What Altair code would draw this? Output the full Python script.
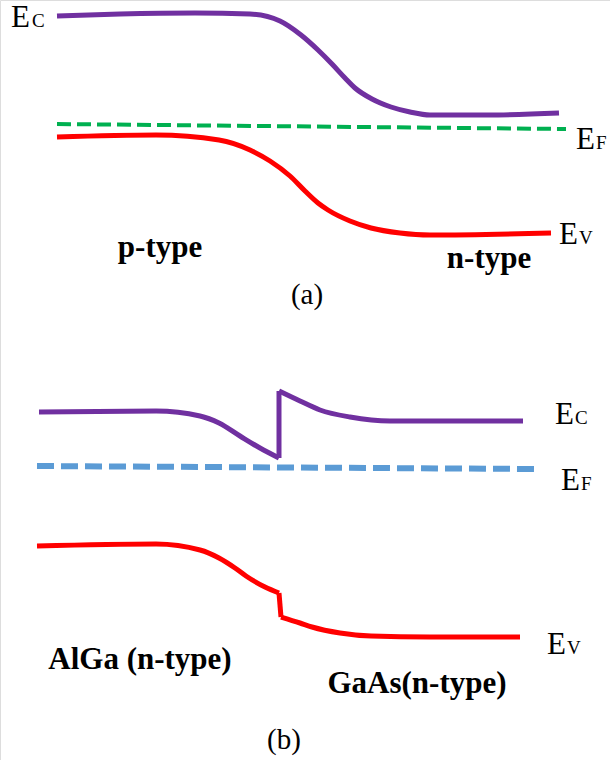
import altair as alt
import pandas as pd

W, H = 610, 760

# ---- panel (a): p-n homojunction ----
ec_a_x = [57, 120, 195, 250, 280, 301, 318, 332, 345, 355, 372, 391, 410, 430, 488, 559]
ec_a_y = [16, 14, 13, 14, 21, 35, 50, 64, 78, 88, 99, 107, 112, 115, 115, 113]

ef_a_x = [57, 566]
ef_a_y = [124, 129]

ev_a_x = [57, 156, 219, 250, 270, 290, 305, 318, 328, 350, 371, 400, 430, 551]
ev_a_y = [137, 135, 140, 150, 161, 176, 191, 203, 210, 221, 228, 233, 235, 233]

# ---- panel (b): AlGa / GaAs heterojunction ----
# conduction band: AlGa side, spike at the interface, GaAs side
ec_b_left_x = [39, 156, 200, 219, 240, 260, 279]
ec_b_left_y = [412, 411, 416, 423, 436, 448, 458]
ec_b_jump_x = [279, 279]
ec_b_jump_y = [458, 391]
ec_b_right_x = [279, 300, 320, 350, 390, 523]
ec_b_right_y = [391, 401, 410, 417, 421, 421]

ef_b_x = [37, 537]
ef_b_y = [466, 469]

# valence band: AlGa side, step at the interface, GaAs side
ev_b_left_x = [37, 156, 200, 219, 235, 246, 265, 279]
ev_b_left_y = [546, 544, 550, 558, 568, 576, 587, 593]
ev_b_jump_x = [279, 281]
ev_b_jump_y = [593, 617]
ev_b_right_x = [281, 300, 312, 340, 371, 430, 520]
ev_b_right_y = [617, 623, 627, 633, 636, 637, 637]

# ---- text ----
e_x = [11, 576, 559, 555, 561, 547]
e_y = [27, 149, 244, 424, 490, 654]
sub_x = [32, 596, 579, 575, 581, 567]
sub_y = [27, 149, 244, 424, 490, 654]
sub_txt = ["C", "F", "V", "C", "F", "V"]

bold_txt = ["p-type", "n-type", "AlGa (n-type)", "GaAs(n-type)"]
bold_x = [160, 489, 140, 417]
bold_y = [257, 268, 669, 693]

panel_txt = ["(a)", "(b)"]
panel_x = [307, 284]
panel_y = [304, 749]

xs = alt.Scale(domain=[0, W], nice=False, zero=False)
ys = alt.Scale(domain=[H, 0], nice=False, zero=False)


def curve(xv, yv, color, width, dash=None, interp="monotone"):
    df = pd.DataFrame({"x": xv, "y": yv, "o": list(range(len(xv)))})
    kw = dict(color=color, strokeWidth=width, strokeCap="butt",
              strokeJoin="round", interpolate=interp)
    if dash:
        kw["strokeDash"] = dash
    return alt.Chart(df).mark_line(**kw).encode(
        x=alt.X("x:Q", scale=xs, axis=None),
        y=alt.Y("y:Q", scale=ys, axis=None),
        order="o:Q",
    )


def texts(xv, yv, tv, size, weight="normal", align="left"):
    df = pd.DataFrame({"x": xv, "y": yv, "t": tv})
    return alt.Chart(df).mark_text(
        font="Liberation Serif", fontSize=size, fontWeight=weight,
        align=align, baseline="alphabetic", color="black",
    ).encode(
        x=alt.X("x:Q", scale=xs, axis=None),
        y=alt.Y("y:Q", scale=ys, axis=None),
        text="t:N",
    )


purple = "#7030A0"
red = "#FF0000"
green = "#00B050"
blue = "#5B9BD5"

chart = alt.layer(
    curve(ec_a_x, ec_a_y, purple, 5),
    curve(ef_a_x, ef_a_y, green, 4, [14, 6], "linear"),
    curve(ev_a_x, ev_a_y, red, 5),
    curve(ec_b_left_x, ec_b_left_y, purple, 5),
    curve(ec_b_jump_x, ec_b_jump_y, purple, 5, None, "linear"),
    curve(ec_b_right_x, ec_b_right_y, purple, 5),
    curve(ef_b_x, ef_b_y, blue, 6, [17, 7], "linear"),
    curve(ev_b_left_x, ev_b_left_y, red, 5),
    curve(ev_b_jump_x, ev_b_jump_y, red, 5, None, "linear"),
    curve(ev_b_right_x, ev_b_right_y, red, 5),
    texts(e_x, e_y, ["E"] * 6, 31),
    texts(sub_x, sub_y, sub_txt, 19),
    texts(bold_x, bold_y, bold_txt, 31, "bold", "center"),
    texts(panel_x, panel_y, panel_txt, 29, "normal", "center"),
).properties(
    width=W, height=H, padding=0, autosize=alt.AutoSizeParams(type="none"),
).configure_view(stroke=None).configure(background="white")

chart.save("out.html", embed_options={"renderer": "svg", "actions": False})
